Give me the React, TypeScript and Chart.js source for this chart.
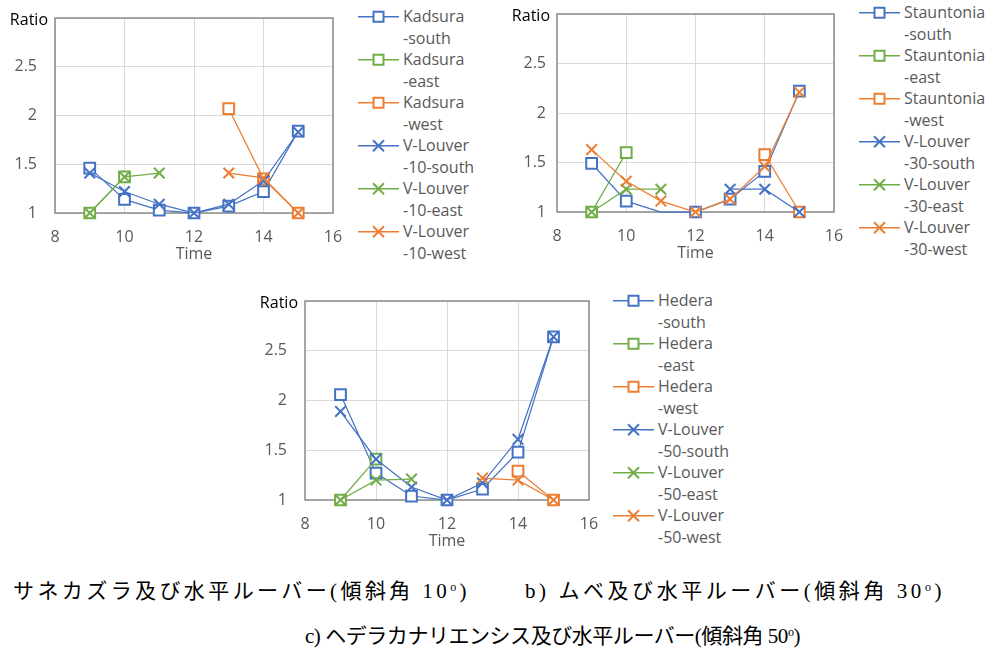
import React, { useEffect, useLayoutEffect, useRef, useState } from 'react';
import { Chart, registerables } from 'chart.js';

Chart.register(...registerables);

// ---------- data ----------
const hours = [9, 10, 11, 12, 13, 14, 15];
const xTickValues = [8, 10, 12, 14, 16];
const yTickValues = [1, 1.5, 2, 2.5, 3];

// a) Kadsura + V-Louver 10
const kadsuraSouth = [1.46, 1.14, 1.03, 1.0, 1.07, 1.22, 1.84];
const kadsuraEast = [1.0, 1.37, null, null, null, null, null];
const kadsuraWest = [null, null, null, null, 2.07, 1.35, 1.0];
const vLouver10South = [1.41, 1.22, 1.09, 1.0, 1.09, 1.33, 1.83];
const vLouver10East = [1.0, 1.37, 1.41, null, null, null, null];
const vLouver10West = [null, null, null, null, 1.41, 1.36, 1.0];

// b) Stauntonia + V-Louver 30
const stauntoniaSouth = [1.49, 1.11, 1.0, 1.0, 1.13, 1.41, 2.22];
const stauntoniaEast = [1.0, 1.6, null, null, null, null, null];
const stauntoniaWest = [null, null, null, null, null, 1.58, 1.0];
const vLouver30South = [null, null, null, null, 1.23, 1.23, 1.0];
const vLouver30East = [1.0, 1.23, 1.23, null, null, null, null];
const vLouver30West = [1.63, 1.31, 1.11, 1.0, 1.13, 1.46, 2.21];

// c) Hedera + V-Louver 50
const hederaSouth = [2.06, 1.27, 1.04, 1.0, 1.11, 1.48, 2.64];
const hederaEast = [1.0, 1.41, null, null, null, null, null];
const hederaWest = [null, null, null, null, null, 1.29, 1.0];
const vLouver50South = [1.89, 1.41, 1.13, 1.0, 1.17, 1.61, 2.64];
const vLouver50East = [1.0, 1.2, 1.21, null, null, null, null];
const vLouver50West = [null, null, null, null, 1.22, 1.2, 1.0];

const labelsA = [
  ['Kadsura', '-south'], ['Kadsura', '-east'], ['Kadsura', '-west'],
  ['V-Louver', '-10-south'], ['V-Louver', '-10-east'], ['V-Louver', '-10-west'],
];
const labelsB = [
  ['Stauntonia', '-south'], ['Stauntonia', '-east'], ['Stauntonia', '-west'],
  ['V-Louver', '-30-south'], ['V-Louver', '-30-east'], ['V-Louver', '-30-west'],
];
const labelsC = [
  ['Hedera', '-south'], ['Hedera', '-east'], ['Hedera', '-west'],
  ['V-Louver', '-50-south'], ['V-Louver', '-50-east'], ['V-Louver', '-50-west'],
];

const yAxisTitle = 'Ratio';
const xAxisTitle = 'Time';

const captionA = 'サネカズラ及び水平ルーバー(傾斜角 ';
const captionB = 'b) ムベ及び水平ルーバー(傾斜角 ';
const captionC = 'c) ヘデラカナリエンシス及び水平ルーバー(傾斜角 ';

// ---------- styles ----------
const BLUE = '#4472C4';
const GREEN = '#70AD47';
const ORANGE = '#ED7D31';
const COLORS = [BLUE, GREEN, ORANGE, BLUE, GREEN, ORANGE];
const STYLES = ['rect', 'rect', 'rect', 'crossRot', 'crossRot', 'crossRot'];
const FONT = "'Open Sans', 'Noto Sans', sans-serif";
const TICK_COLOR = '#595959';

type Plot = { left: number; top: number; right: number; bottom: number };

const Y_AXIS_W = 55;
const PAD_TOP = 14;
const PAD_RIGHT = 14;
const X_AXIS_H = 51;

const framePlugin = {
  id: 'frame',
  beforeDatasetsDraw(chart: any) {
    const { ctx, chartArea } = chart;
    ctx.save();
    ctx.strokeStyle = '#8c8c8c';
    ctx.lineWidth = 1.5;
    ctx.strokeRect(chartArea.left, chartArea.top, chartArea.right - chartArea.left, chartArea.bottom - chartArea.top);
    ctx.restore();
  },
  afterDraw(chart: any) {
    const { ctx, chartArea } = chart;
    ctx.save();
    ctx.fillStyle = '#000';
    ctx.font = `16px ${FONT}`;
    ctx.textAlign = 'right';
    ctx.textBaseline = 'middle';
    ctx.fillText(yAxisTitle, chartArea.left - 7, chartArea.top + 2);
    ctx.restore();
  },
};

function LineChart({ plot, series, names, tickPad, hiddenPoints }: {
  plot: Plot; series: (number | null)[][]; names: string[][]; tickPad: number; hiddenPoints?: number[][];
}) {
  const ref = useRef<HTMLCanvasElement | null>(null);
  const width = plot.right - plot.left + Y_AXIS_W + PAD_RIGHT;
  const height = plot.bottom - plot.top + PAD_TOP + X_AXIS_H;

  useEffect(() => {
    if (!ref.current) return;
    const datasets = series.map((vals, i) => {
      const isRect = STYLES[i] === 'rect';
      const hidden = hiddenPoints ? hiddenPoints[i] : [];
      return {
        label: names[i].join(''),
        data: hours.map((h, j) => ({ x: h, y: vals[j] })),
        borderColor: COLORS[i],
        backgroundColor: COLORS[i],
        borderWidth: 1.25,
        pointStyle: STYLES[i],
        pointRadius: hours.map((_, j) => (hidden.includes(j) ? 0 : isRect ? 7.6 : 7.5)),
        pointBorderWidth: 2,
        pointBorderColor: COLORS[i],
        pointBackgroundColor: '#ffffff',
        spanGaps: false,
        clip: false as any,
        order: series.length - i,
        tension: 0,
      };
    });
    const chart = new Chart(ref.current, {
      type: 'line',
      data: { datasets: datasets as any },
      plugins: [framePlugin],
      options: {
        animation: false,
        responsive: false,
        devicePixelRatio: 1,
        layout: { padding: { top: PAD_TOP, right: PAD_RIGHT, left: 0, bottom: 0 } },
        plugins: { legend: { display: false }, tooltip: { enabled: false }, title: { display: false } },
        scales: {
          x: {
            type: 'linear',
            min: xTickValues[0],
            max: xTickValues[xTickValues.length - 1],
            afterBuildTicks: (s: any) => { s.ticks = xTickValues.map((v) => ({ value: v })); },
            ticks: { color: TICK_COLOR, font: { family: FONT, size: 16 }, padding: 15, maxRotation: 0 },
            grid: { color: '#d9d9d9', lineWidth: 1, drawTicks: false },
            border: { display: false },
            title: { display: true, text: xAxisTitle, color: TICK_COLOR, font: { family: FONT, size: 16 }, padding: { top: 0, bottom: 0 } },
            afterFit: (s: any) => {
              s.height = X_AXIS_H;
              s.paddingLeft = 0; s.paddingRight = 0; s.paddingTop = 0; s.paddingBottom = 0;
            },
          },
          y: {
            type: 'linear',
            min: yTickValues[0],
            max: yTickValues[yTickValues.length - 1],
            afterBuildTicks: (s: any) => { s.ticks = yTickValues.map((v) => ({ value: v })); },
            ticks: {
              color: TICK_COLOR,
              font: { family: FONT, size: 16 },
              padding: tickPad,
              callback: (v: any) => (v === yTickValues[yTickValues.length - 1] ? '' : String(v)),
            },
            grid: { color: '#d9d9d9', lineWidth: 1, drawTicks: false },
            border: { display: false },
            afterFit: (s: any) => {
              s.width = Y_AXIS_W;
              s.paddingLeft = 0; s.paddingRight = 0; s.paddingTop = 0; s.paddingBottom = 0;
            },
          },
        },
      } as any,
    });
    return () => chart.destroy();
  }, []);

  return (
    <canvas
      ref={ref}
      width={width}
      height={height}
      style={{ position: 'absolute', left: plot.left - Y_AXIS_W, top: plot.top - PAD_TOP, width, height }}
    />
  );
}

const LH = 21.5;

function Legend({ left, top, names }: { left: number; top: number; names: string[][] }) {
  return (
    <div style={{ position: 'absolute', left, top }}>
      {names.map((n, i) => (
        <div key={i} style={{ position: 'relative', height: LH * 2 }}>
          <svg width={41} height={LH} style={{ position: 'absolute', left: 0, top: 0 }}>
            <line x1={0} x2={41} y1={LH / 2} y2={LH / 2} stroke={COLORS[i]} strokeWidth={1.5} />
            {STYLES[i] === 'rect' ? (
              <rect x={15.5} y={LH / 2 - 5} width={10} height={10} fill="#fff" stroke={COLORS[i]} strokeWidth={2} />
            ) : (
              <g stroke={COLORS[i]} strokeWidth={2}>
                <line x1={15} y1={LH / 2 - 5.5} x2={26} y2={LH / 2 + 5.5} />
                <line x1={15} y1={LH / 2 + 5.5} x2={26} y2={LH / 2 - 5.5} />
              </g>
            )}
          </svg>
          <div style={{
            position: 'absolute', left: 45, top: 0, font: `16px ${FONT}`, color: TICK_COLOR,
            lineHeight: `${LH}px`, whiteSpace: 'nowrap',
          }}>
            <div>{n[0]}</div>
            <div>{n[1]}</div>
          </div>
        </div>
      ))}
    </div>
  );
}

const CAPTION_FONT = "'Liberation Serif', 'Noto Sans CJK JP', serif";

function Caption({ left, right, centerY, text, deg }: { left: number; right: number; centerY: number; text: string; deg: string }) {
  const ref = useRef<HTMLDivElement | null>(null);
  const [spacing, setSpacing] = useState(0);
  useLayoutEffect(() => {
    if (!ref.current) return;
    const natural = ref.current.getBoundingClientRect().width;
    const n = text.length + deg.length + 2;
    setSpacing((right - left - natural) / n);
  }, []);
  return (
    <div ref={ref} style={{
      position: 'absolute', left, top: centerY - 12, height: 24, lineHeight: '24px',
      fontFamily: CAPTION_FONT, fontSize: 21, color: '#000', whiteSpace: 'nowrap',
      letterSpacing: spacing,
    }}>
      {text}{deg}<sup style={{ fontSize: 12, verticalAlign: 'top', lineHeight: '16px' }}>o</sup>)
    </div>
  );
}

export default function App() {
  return (
    <div style={{ position: 'absolute', left: 0, top: 0, width: 989, height: 653, background: '#fff', overflow: 'hidden' }}>
      <LineChart
        plot={{ left: 55, top: 18, right: 333, bottom: 213 }}
        series={[kadsuraSouth, kadsuraEast, kadsuraWest, vLouver10South, vLouver10East, vLouver10West]}
        names={labelsA}
        tickPad={18}
      />
      <Legend left={358} top={6} names={labelsA} />
      <LineChart
        plot={{ left: 557, top: 14, right: 834, bottom: 212 }}
        series={[stauntoniaSouth, stauntoniaEast, stauntoniaWest, vLouver30South, vLouver30East, vLouver30West]}
        names={labelsB}
        tickPad={11}
        hiddenPoints={[[2], [], [], [], [], []]}
      />
      <Legend left={859} top={2} names={labelsB} />
      <LineChart
        plot={{ left: 305, top: 301, right: 589, bottom: 500 }}
        series={[hederaSouth, hederaEast, hederaWest, vLouver50South, vLouver50East, vLouver50West]}
        names={labelsC}
        tickPad={18}
      />
      <Legend left={613} top={290} names={labelsC} />
      <Caption left={13} right={470} centerY={591} text={captionA} deg="10" />
      <Caption left={525} right={945} centerY={591} text={captionB} deg="30" />
      <Caption left={305} right={800} centerY={636} text={captionC} deg="50" />
    </div>
  );
}
